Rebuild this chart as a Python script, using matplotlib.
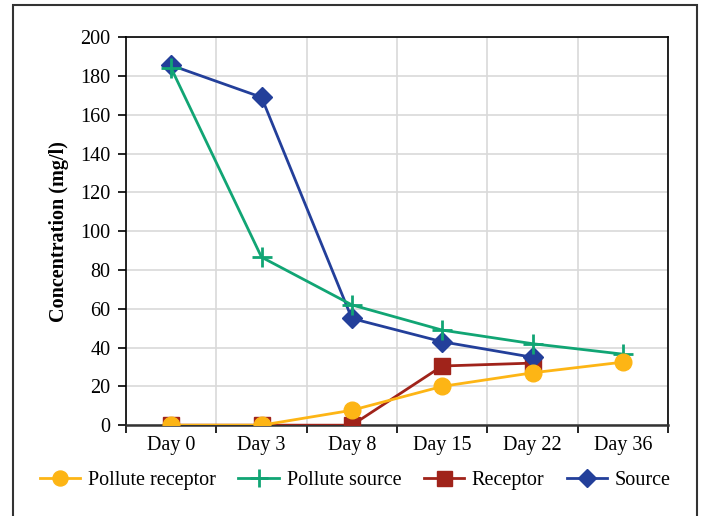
import matplotlib
matplotlib.use('Agg')
import matplotlib.pyplot as plt
from matplotlib.patches import Rectangle
import numpy as np

plt.rcParams['font.family'] = ['Liberation Serif', 'DejaVu Serif']

days = ['Day 0', 'Day 3', 'Day 8', 'Day 15', 'Day 22', 'Day 36']
pollute_receptor = [0, 0, 7.7, 20, 27, 32.5]
pollute_source = [184, 86.6, 62, 49, 42, 36.6]
receptor = [0, 0, 0, 30.5, 32]
source = [185.5, 169, 55, 43, 35]

x = np.arange(len(days))

fig = plt.figure(figsize=(7.04, 5.16), dpi=100)
ax = fig.add_axes([0.179, 0.176, 0.770, 0.752])

ax.plot(x[:len(receptor)], receptor, color='#A0231A', lw=2, marker='s', ms=12,
        label='Receptor', zorder=3)
ax.plot(x[:len(source)], source, color='#233F9A', lw=2, marker='D', ms=10,
        label='Source', zorder=4)
ax.plot(x, pollute_source, color='#11A574', lw=2, marker='+', ms=14, mew=2,
        label='Pollute source', zorder=5)
ax.plot(x, pollute_receptor, color='#FDB515', lw=2, marker='o', ms=12,
        label='Pollute receptor', zorder=6)

ax.set_xlim(-0.5, len(days) - 0.5)
ax.set_ylim(0, 200)
ax.set_yticks(np.arange(0, 201, 20))
ax.set_xticks(x)
ax.set_xticklabels(days)
ax.set_xticks(np.arange(-0.5, len(days), 1), minor=True)
ax.tick_params(axis='x', which='major', length=0, pad=8, labelsize=14.5)
ax.tick_params(axis='x', which='minor', length=6, width=1.2, direction='out')
ax.tick_params(axis='y', length=6, width=1.2, direction='out', labelsize=14.5, pad=5)
ax.grid(True, which='minor', axis='x', color='#d9d9d9', lw=1.2)
ax.grid(True, which='major', axis='y', color='#d9d9d9', lw=1.2)
ax.set_axisbelow(True)
for s in ax.spines.values():
    s.set_linewidth(1.2)
ax.spines['bottom'].set_color('#333333')
ax.spines['bottom'].set_linewidth(1.8)

ax.set_ylabel('Concentration (mg/l)', fontsize=14.5, fontweight='bold', labelpad=8)

handles, labels = ax.get_legend_handles_labels()
order = [3, 2, 0, 1]
fig.legend([handles[i] for i in order], [labels[i] for i in order],
           loc='center', bbox_to_anchor=(0.505, 0.068), ncol=4, frameon=False,
           fontsize=14.5, handlelength=2.0, handletextpad=0.4, columnspacing=1.1,
           markerscale=0.9)

# outer frame
fig.patches.append(Rectangle((0.019, -0.02), 0.971, 1.01, transform=fig.transFigure,
                             fill=False, edgecolor='#333333', lw=1.5))

fig.savefig('out.png', dpi=100)
